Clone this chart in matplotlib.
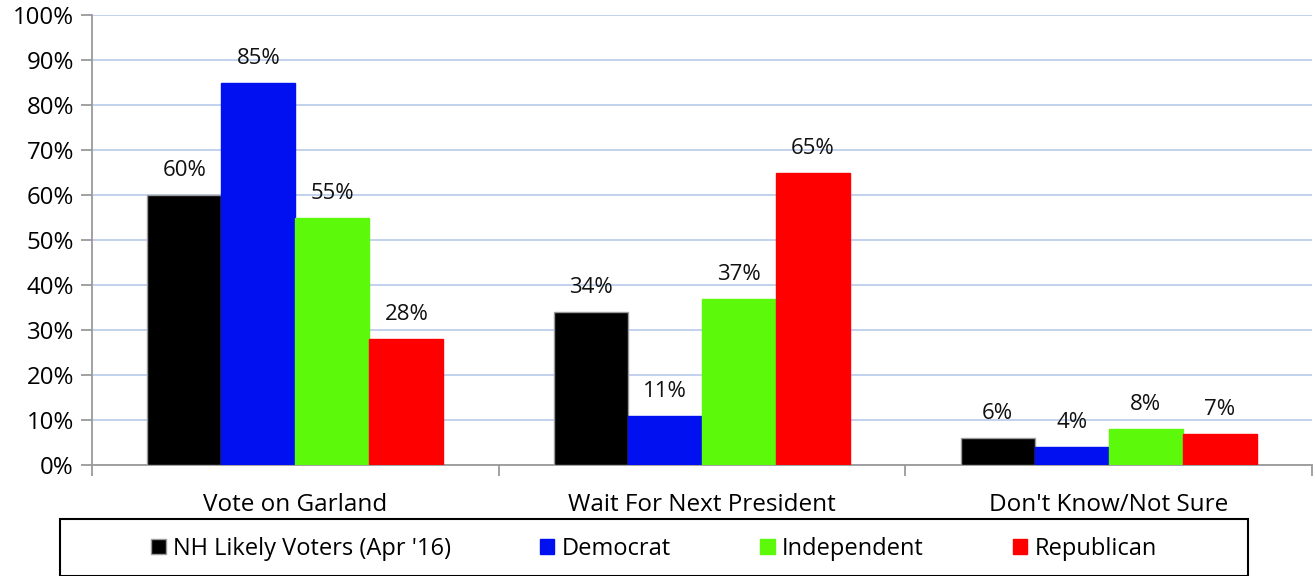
import matplotlib
matplotlib.use("Agg")
import matplotlib.pyplot as plt
from matplotlib.patches import Rectangle
import numpy as np

plt.rcParams['font.family'] = ['Open Sans', 'DejaVu Sans']

categories = ["Vote on Garland", "Wait For Next President", "Don't Know/Not Sure"]
series_names = ["NH Likely Voters (Apr '16)", "Democrat", "Independent", "Republican"]
likely_voters = [60, 34, 6]
democrat = [85, 11, 4]
independent = [55, 37, 8]
republican = [28, 65, 7]
y_ticks = [0, 10, 20, 30, 40, 50, 60, 70, 80, 90, 100]

series = [likely_voters, democrat, independent, republican]
colors = ["#000000", "#0010F0", "#5CF90A", "#FF0000"]
edges = ["#9a9a9a", "#0010F0", "#5CF90A", "#FF0000"]

fig = plt.figure(figsize=(13.15, 5.76), dpi=100)
ax = fig.add_axes([92/1315, 1-465/576, (1312-92)/1315, (465-15)/576])

x = np.arange(len(categories))
bw = 0.182
handles = []
for i, (vals, c, ec) in enumerate(zip(series, colors, edges)):
    pos = x + (i - 1.5) * bw
    b = ax.bar(pos, vals, bw, color=c, edgecolor=ec, linewidth=1.0, zorder=3,
               label=series_names[i])
    handles.append(b)
    for p, v in zip(pos, vals):
        ax.annotate(f"{v}%", (p, v), xytext=(0, 10), textcoords="offset points",
                    ha="center", va="bottom", fontsize=16, color="#111111")

ax.set_xlim(-0.5, len(categories) - 0.5)
ax.set_ylim(0, 100)
ax.set_yticks(y_ticks)
ax.set_yticklabels([f"{t}%" for t in y_ticks], fontsize=17.3)
ax.yaxis.grid(True, color="#b8cbea", linewidth=1.2, zorder=0)
ax.set_axisbelow(True)

ax.set_xticks(np.arange(len(categories) + 1) - 0.5, minor=False)
ax.set_xticklabels([])
ax.set_xticks(x, minor=True)
ax.set_xticklabels(categories, minor=True, fontsize=17.5)
ax.tick_params(axis="x", which="minor", length=0, pad=20)
ax.tick_params(axis="x", which="major", length=8, width=1.3, color="#9a9a9a", direction="out")
ax.tick_params(axis="y", length=8, width=1.3, color="#9a9a9a", direction="out", pad=5)

for s in ["top", "right"]:
    ax.spines[s].set_visible(False)
for s in ["left", "bottom"]:
    ax.spines[s].set_color("#9a9a9a")
    ax.spines[s].set_linewidth(1.3)

# legend frame
frame = Rectangle((60/1315, 0), (1248-60)/1315, (576-519)/576, transform=fig.transFigure,
                  facecolor="white", edgecolor="black", linewidth=1.5, clip_on=False)
fig.patches.append(frame)
fig.legend(handles=handles, labels=series_names, loc="center", ncol=4,
           bbox_to_anchor=(654/1315, 1-549/576), frameon=False, fontsize=17,
           handlelength=0.6, handleheight=0.6, handletextpad=0.3, columnspacing=3.8)

fig.savefig("out.png", dpi=100)
